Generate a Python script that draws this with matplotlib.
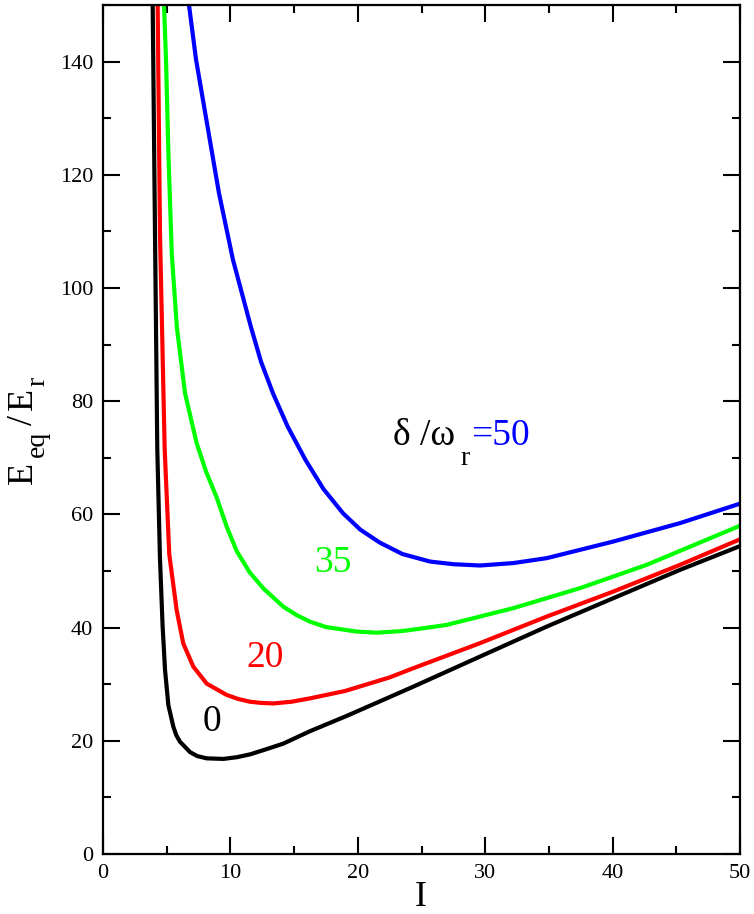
import matplotlib
matplotlib.use("Agg")
import matplotlib.pyplot as plt
from matplotlib.ticker import MultipleLocator

plt.rcParams['font.family'] = ['Liberation Serif', 'DejaVu Serif']

# curves, one per delta/omega_r
x0 = [3.9, 4.08, 4.26, 4.47, 4.68, 4.87, 5.13, 5.52, 5.75, 6.04, 6.83, 7.4, 8.14,
      9.44, 10.5, 11.54, 12.8, 14.15, 16.25, 19.13, 22.27, 24.36, 29.59, 34.83,
      40.06, 45.29, 50.0]
y0 = [150, 110, 71.7, 52.3, 40.2, 32.5, 26.3, 22.5, 21.0, 19.85, 18.0, 17.3, 16.9,
      16.8, 17.1, 17.6, 18.5, 19.5, 21.7, 24.4, 27.5, 29.57, 34.88, 40.18,
      45.2, 50.2, 54.4]

x20 = [4.29, 4.47, 4.84, 5.2, 5.78, 6.3, 7.09, 8.14, 9.71, 10.6, 11.54, 12.4,
       13.37, 14.8, 16.25, 19.0, 22.5, 24.36, 29.59, 34.83, 40.06, 45.29, 50.0]
y20 = [150, 110, 71.6, 53.0, 43.1, 37.2, 33.1, 30.1, 28.1, 27.4, 26.9, 26.7,
       26.6, 26.9, 27.5, 28.8, 31.2, 32.83, 37.25, 41.95, 46.37, 51.09, 55.6]

x35 = [4.79, 4.95, 5.13, 5.4, 5.8, 6.44, 7.35, 8.1, 8.92, 9.7, 10.5, 11.5, 12.6,
       14.15, 15.2, 16.25, 17.5, 19.91, 21.48, 23.5, 25.2, 26.98, 32.2, 37.44,
       42.68, 50.0]
y35 = [150, 140, 124, 106, 93, 81.4, 72.6, 67.5, 63.0, 57.9, 53.5, 49.8, 46.9,
       43.7, 42.2, 41.05, 40.1, 39.3, 39.1, 39.4, 39.9, 40.48, 43.43, 46.97,
       51.09, 58.0]

x50 = [6.75, 7.3, 8.2, 9.1, 10.2, 11.6, 12.4, 13.34, 14.5, 15.9, 17.3, 18.84,
       20.2, 21.74, 23.5, 25.67, 27.5, 29.59, 32.2, 34.83, 40.06, 45.29, 50.0]
y50 = [150, 140.4, 128.6, 116.8, 105, 93.2, 87.0, 81.4, 75.5, 69.6, 64.5, 60.2,
       57.3, 55.0, 53.0, 51.67, 51.2, 50.97, 51.4, 52.27, 55.21, 58.46, 61.9]

W, H = 754, 914
fig = plt.figure(figsize=(W / 100, H / 100), dpi=100)
ax = fig.add_axes([103 / W, 1 - 854 / H, 637 / W, 849 / H])

green = '#00ff00'
for xs, ys, c in [(x0, y0, 'black'), (x20, y20, 'red'), (x35, y35, green), (x50, y50, 'blue')]:
    ax.plot(xs, ys, color=c, lw=3.0, solid_joinstyle='round')

ax.set_xlim(0, 50)
ax.set_ylim(0, 150)
ax.xaxis.set_major_locator(MultipleLocator(10))
ax.xaxis.set_minor_locator(MultipleLocator(5))
ax.yaxis.set_major_locator(MultipleLocator(20))
ax.yaxis.set_minor_locator(MultipleLocator(10))
ax.tick_params(which='both', direction='in', top=True, right=True, width=1.5, labelsize=16)
ax.tick_params(which='major', length=12, pad=7)
ax.tick_params(which='minor', length=6)
for s in ax.spines.values():
    s.set_linewidth(1.6)

# axis labels, subscripts sit low like the original
fig.text(421 / W, 1 - 906 / H, 'I', fontsize=26, ha='center', va='baseline')

def ylab(txt, px, py, size):
    fig.text(px / W, 1 - py / H, txt, fontsize=size, rotation=90,
             rotation_mode='anchor', ha='left', va='baseline')

ylab('E', 32, 484, 26)
ylab('eq', 44, 457, 20)
ylab('/', 32, 425, 26)
ylab('E', 32, 410, 26)
ylab('r', 44, 386, 20)

# curve labels
ax.text(8.56, 23.3, '0', fontsize=27, color='black', ha='center', va='center')
ax.text(12.72, 34.6, '20', fontsize=27, color='red', ha='center', va='center')
ax.text(18.05, 51.4, '35', fontsize=27, color=green, ha='center', va='center')
ax.text(22.76, 72.3, 'δ /ω', fontsize=27, color='black', ha='left', va='baseline')
ax.text(28.05, 68.8, 'r', fontsize=20, color='black', ha='left', va='baseline')
ax.text(28.9, 72.3, '=50', fontsize=27, color='blue', ha='left', va='baseline')

fig.savefig('out.png', dpi=100)
